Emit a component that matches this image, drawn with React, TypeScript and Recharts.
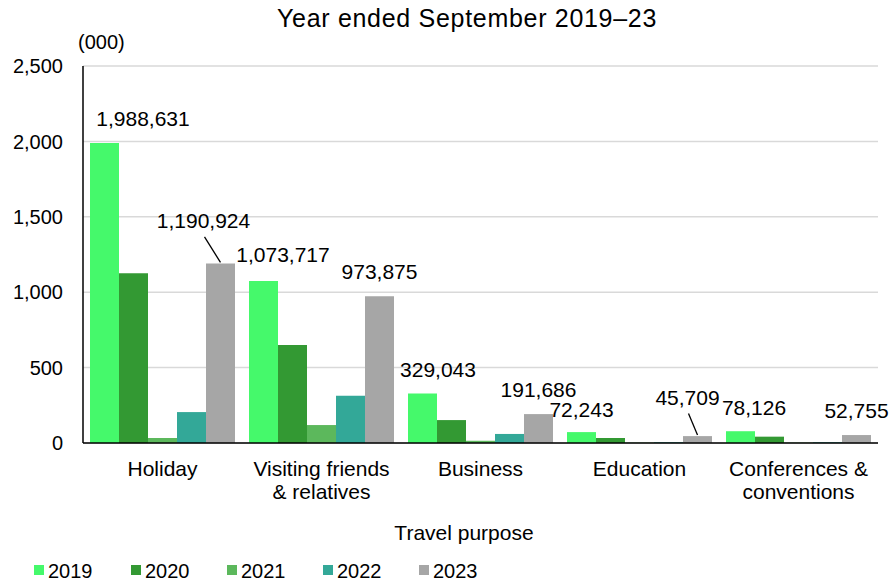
import React from 'react';
import { BarChart, Bar, XAxis, YAxis, CartesianGrid, LabelList } from 'recharts';

// Travel purpose categories (line breaks mark the wrapped tick labels)
const categories = [
  'Holiday',
  'Visiting friends\n& relatives',
  'Business',
  'Education',
  'Conferences &\nconventions',
];

// Visitors, thousands
const y2019 = [1988.631, 1073.717, 329.043, 72.243, 78.126];
const y2020 = [1125, 650, 152, 33, 42];
const y2021 = [33, 119, 15, 2, 2];
const y2022 = [205, 313, 60, 5, 5];
const y2023 = [1190.924, 973.875, 191.686, 45.709, 52.755];

const yTicks = [0, 500, 1000, 1500, 2000, 2500];

const years = ['2019', '2020', '2021', '2022', '2023'];

const COLORS: Record<string, string> = {
  '2019': '#45F96B',
  '2020': '#339933',
  '2021': '#5CB85C',
  '2022': '#33A898',
  '2023': '#A6A6A6',
};

// label nudges [dx, dy] relative to the top centre of the bar
const OFFSETS_2019 = [
  [38.5, -17],
  [19.5, -19],
  [15.5, -16],
  [0, -15],
  [13.5, -16],
];
const OFFSETS_2023 = [
  [-17, -35],
  [0, -17],
  [0, -17],
  [-10, -31],
  [0, -17],
];
// which 2023 labels get a leader line
const LEADERS_2023 = [true, false, false, true, false];

const FONT = '"Liberation Sans", Arial, sans-serif';

const data = categories.map((name, i) => ({
  name,
  '2019': y2019[i],
  '2020': y2020[i],
  '2021': y2021[i],
  '2022': y2022[i],
  '2023': y2023[i],
}));

const fmt = (v: number) => Math.round(v * 1000).toLocaleString('en-US');

const makeLabel = (offsets: number[][], leaders?: boolean[]) => (props: any) => {
  const { x, y, width, value, index } = props;
  const cx = Number(x) + Number(width) / 2;
  const top = Number(y);
  const [dx, dy] = offsets[index] || [0, -16];
  const lx = cx + dx;
  const ly = top + dy;
  return (
    <g>
      {leaders && leaders[index] && (
        <line x1={lx + 1} y1={ly + 8.5} x2={cx} y2={top - 1} stroke="#000" strokeWidth={1.3} />
      )}
      <text x={lx} y={ly} textAnchor="middle" fontSize={21} fontFamily={FONT} fill="#000">
        {fmt(Number(value))}
      </text>
    </g>
  );
};

const CategoryTick = (props: any) => {
  const { x, y, payload } = props;
  const lines = String(payload.value).split('\n');
  return (
    <text x={x} y={y} textAnchor="middle" fontSize={21} fontFamily={FONT} fill="#000">
      {lines.map((line, i) => (
        <tspan key={i} x={x} y={Number(y) + 33 + i * 23}>
          {line}
        </tspan>
      ))}
    </text>
  );
};

const LEGEND_X = [34, 131, 227, 323, 419];

export default function App() {
  return (
    <div style={{ position: 'absolute', left: 0, top: 0, width: 890, height: 581, background: '#fff' }}>
      <BarChart
        width={890}
        height={581}
        data={data}
        margin={{ top: 66, right: 12, left: 0, bottom: 0 }}
        barCategoryGap={7}
        barGap={0}
      >
        <CartesianGrid vertical={false} stroke="#D9D9D9" strokeWidth={1.5} />
        <XAxis
          dataKey="name"
          interval={0}
          height={138}
          tickLine={false}
          tickSize={0}
          tickMargin={0}
          axisLine={{ stroke: '#000', strokeWidth: 1.5 }}
          tick={<CategoryTick />}
        />
        <YAxis
          width={83}
          domain={[0, 2500]}
          ticks={yTicks}
          tickLine={false}
          tickSize={0}
          tickMargin={20}
          axisLine={{ stroke: '#000', strokeWidth: 1.5 }}
          tick={{ fill: '#000', fontSize: 20, fontFamily: FONT }}
          tickFormatter={(v: number) => v.toLocaleString('en-US')}
        />
        {years.map((yr) => (
          <Bar key={yr} dataKey={yr} fill={COLORS[yr]} isAnimationActive={false}>
            {yr === '2019' && <LabelList dataKey={yr} content={makeLabel(OFFSETS_2019)} />}
            {yr === '2023' && (
              <LabelList dataKey={yr} content={makeLabel(OFFSETS_2023, LEADERS_2023)} />
            )}
          </Bar>
        ))}
      </BarChart>

      {/* titles, unit note, axis title and legend */}
      <svg
        width={890}
        height={581}
        style={{ position: 'absolute', left: 0, top: 0, pointerEvents: 'none' }}
        fontFamily={FONT}
      >
        <text x={467} y={27} textAnchor="middle" fontSize={25} letterSpacing={0.7} fill="#000">
          Year ended September 2019–23
        </text>
        <text x={78} y={49} fontSize={20} fill="#000">
          (000)
        </text>
        <text x={464} y={540} textAnchor="middle" fontSize={21} fill="#000">
          Travel purpose
        </text>
        {years.map((yr, i) => (
          <g key={yr}>
            <rect x={LEGEND_X[i]} y={565} width={10} height={10} fill={COLORS[yr]} />
            <text x={LEGEND_X[i] + 14} y={578} fontSize={20} fill="#000">
              {yr}
            </text>
          </g>
        ))}
      </svg>
    </div>
  );
}
